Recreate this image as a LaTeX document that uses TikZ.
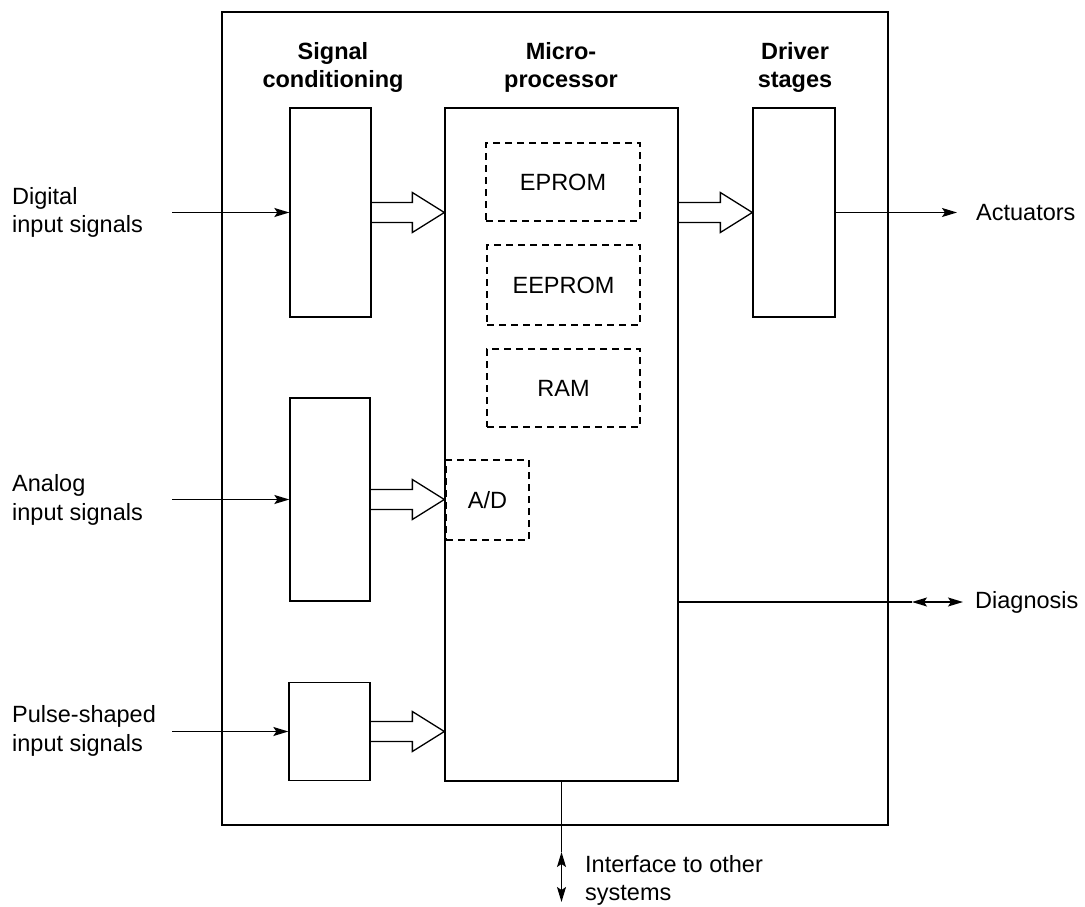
\documentclass[tikz,border=0pt]{standalone}
\usepackage{fontspec}
\setmainfont{Liberation Sans}
\usetikzlibrary{calc,arrows.meta}
\newcommand\hollowarrow[2]{\draw[hollow] ($(#1)+(0,-10)$) -- ($(#2)+(-32,-10)$) -- ($(#2)+(-32,-20)$) -- (#2) -- ($(#2)+(-32,20)$) -- ($(#2)+(-32,10)$) -- ($(#1)+(0,10)$);}
\begin{document}
\begin{tikzpicture}[x=1pt,y=-1pt,
  txt/.style={font=\fontsize{23.5}{28.5}\selectfont, inner sep=0pt},
  hdr/.style={font=\fontsize{23.5}{28}\selectfont\bfseries, align=center, inner sep=0pt},
  blk/.style={draw, line width=1.3pt, inner sep=0pt, rectangle},
  dbox/.style={draw, line width=1.3pt, dash pattern=on 7pt off 5pt, inner sep=0pt, rectangle,
     font=\fontsize{23.5}{28}\selectfont},
  arr/.style={line width=1.3pt, -{Stealth[length=15pt,width=9pt,inset=3pt]}},
  darr/.style={line width=1.3pt, {Stealth[length=15pt,width=9pt,inset=3pt]}-{Stealth[length=15pt,width=9pt,inset=3pt]}},
  hollow/.style={line width=1.3pt, line join=miter},
  thin/.style={line width=1.3pt}]
\useasboundingbox (0,0) rectangle (1085,907);
\fill[white] (0,0) rectangle (1085,907);
% outer box
\node[blk, line width=1.6pt, minimum width=666pt, minimum height=813pt] (outer) at (555,418.5) {};
% headers
\node[hdr] (h1) at (333,67) {Signal\\conditioning};
\node[hdr] (h2) at (561,67) {Micro-\\processor};
\node[hdr] (h3) at (795,67) {Driver\\stages};
% blocks
\node[blk, minimum width=81pt, minimum height=209pt] (sc1) at (330.5,212.5) {};
\node[blk, minimum width=80pt, minimum height=203pt] (sc2) at (330,499.5) {};
\node[blk, minimum width=81pt, minimum height=98pt] (sc3) at (329.5,731.5) {};
\node[blk, minimum width=233pt, minimum height=673pt] (mp) at (561.5,444.5) {};
\node[blk, minimum width=82pt, minimum height=209pt] (drv) at (794,212.5) {};
% memory boxes
\node[dbox, minimum width=154pt, minimum height=78pt] (eprom) at (563,182) {EPROM};
\node[dbox, minimum width=153pt, minimum height=80pt] (eeprom) at (563.5,285) {EEPROM};
\node[dbox, minimum width=153pt, minimum height=78pt] (ram) at (563.5,388) {RAM};
\node[dbox, minimum width=83pt, minimum height=80pt] (ad) at (487.5,500) {A/D};
% left labels
\node[txt, align=left, anchor=west] (ldig) at (12,212.5) {Digital\\input signals};
\node[txt, align=left, anchor=west] (lana) at (12,500) {Analog\\input signals};
\node[txt, align=left, anchor=west] (lpul) at (12,731) {Pulse-shaped\\input signals};
% right labels
\node[txt, anchor=west, inner xsep=19pt] (act) at (957,212.5) {Actuators};
\node[txt, anchor=west, inner xsep=12pt] (diag) at (963,602) {Diagnosis};
\node[txt, align=left, anchor=north west] (intf) at (585,855) {Interface to other\\systems};
% input connectors
\coordinate (din) at (172,212.5);
\coordinate (ain) at (172,499.5);
\coordinate (pin) at (172,731.5);
\draw[arr] (din) -- (sc1.west);
\draw[arr] (ain) -- (sc2.west);
\draw[arr] (pin) -- (sc3.west);
% hollow arrows
\coordinate (t1) at (sc1.east -| mp.west);
\coordinate (t2) at (sc2.east -| mp.west);
\coordinate (t3) at (sc3.east -| mp.west);
\coordinate (s4) at (mp.east |- drv.west);
\hollowarrow{sc1.east}{t1}
\hollowarrow{sc2.east}{t2}
\hollowarrow{sc3.east}{t3}
\hollowarrow{s4}{drv.west}
% outputs
\draw[arr] (drv.east) -- (act.west);
\coordinate (dg) at (912,602);
\draw[thin] (mp.east |- dg) -- (dg);
\draw[darr] (dg) -- (diag.west);
\coordinate (ifup) at (561.5,852);
\coordinate (ifdn) at (561.5,902);
\draw[thin] (mp.south) -- (ifup);
\draw[darr] (ifup) -- (ifdn);
\end{tikzpicture}
\end{document}
